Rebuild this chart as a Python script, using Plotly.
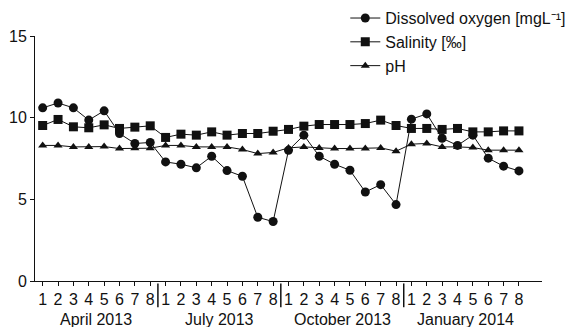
import plotly.graph_objects as go

months = ["April 2013", "July 2013", "October 2013", "January 2014"]
days = ["1", "2", "3", "4", "5", "6", "7", "8"]

dissolved_oxygen = [10.6, 10.9, 10.6, 9.85, 10.42, 9.03, 8.42, 8.48,
                    7.29, 7.15, 6.93, 7.64, 6.76, 6.41, 3.9, 3.64,
                    8.0, 8.93, 7.64, 7.15, 6.78, 5.45, 5.9, 4.68,
                    9.91, 10.23, 8.74, 8.3, 8.93, 7.52, 7.03, 6.74]
salinity = [9.52, 9.89, 9.44, 9.38, 9.56, 9.34, 9.42, 9.50,
            8.79, 8.99, 8.93, 9.13, 8.93, 9.03, 9.03, 9.17,
            9.28, 9.48, 9.58, 9.58, 9.58, 9.64, 9.85, 9.52,
            9.34, 9.34, 9.28, 9.34, 9.13, 9.13, 9.19, 9.19]
ph = [8.3, 8.3, 8.21, 8.2, 8.23, 8.11, 8.13, 8.13,
      8.3, 8.3, 8.21, 8.21, 8.21, 8.05, 7.8, 7.87,
      8.15, 8.21, 8.15, 8.11, 8.11, 8.11, 8.15, 7.95,
      8.38, 8.42, 8.21, 8.21, 8.17, 8.01, 8.01, 8.01]

n = len(months) * len(days)
xs = list(range(n))
tick_text = days * len(months)

FONT = "Liberation Sans, Arial, Helvetica, sans-serif"
INK = "#111111"

fig = go.Figure()
fig.add_trace(go.Scatter(x=xs, y=dissolved_oxygen, mode="lines+markers",
                         name="Dissolved oxygen [mgL⁻¹]",
                         line=dict(color=INK, width=1),
                         marker=dict(symbol="circle", size=9, color=INK)))
fig.add_trace(go.Scatter(x=xs, y=salinity, mode="lines+markers",
                         name="Salinity [‰]",
                         line=dict(color=INK, width=1),
                         marker=dict(symbol="square", size=9, color=INK)))
fig.add_trace(go.Scatter(x=xs, y=ph, mode="lines+markers",
                         name="pH",
                         line=dict(color=INK, width=1),
                         marker=dict(symbol="triangle-up", size=8, color=INK)))

# group separators and month labels
for g in range(1, len(months)):
    xpos = g * len(days) - 0.5
    fig.add_shape(type="line", xref="x", yref="paper", x0=xpos, x1=xpos,
                  y0=-0.01, y1=-0.107, line=dict(color=INK, width=1.5))
for g, m in enumerate(months):
    center = g * len(days) + (len(days) - 1) / 2
    fig.add_annotation(x=center, y=-0.156, xref="x", yref="paper", text=m,
                       showarrow=False, yanchor="middle",
                       font=dict(family=FONT, size=16, color=INK))

fig.update_xaxes(range=[-0.5, n + 0.5], tickmode="array", tickvals=xs,
                 ticktext=tick_text, ticks="outside", ticklen=4, tickwidth=1,
                 tickcolor=INK, showline=True, linecolor=INK, linewidth=1,
                 showgrid=False, zeroline=False,
                 tickfont=dict(family=FONT, size=16, color=INK))
fig.update_yaxes(range=[0, 15], tickvals=[0, 5, 10, 15], ticks="outside",
                 ticklen=4, tickwidth=1, tickcolor=INK, showline=True,
                 linecolor=INK, linewidth=1, showgrid=False, zeroline=False,
                 tickfont=dict(family=FONT, size=16, color=INK))

# the page body adds an 8px offset, so the figure is sized to fit after it
fig.update_layout(
    width=573, height=319,
    margin=dict(l=27, r=39, t=28, b=46, autoexpand=False),
    paper_bgcolor="white", plot_bgcolor="white",
    font=dict(family=FONT, size=16, color=INK),
    legend=dict(x=0.612, y=0.975, xanchor="left", yanchor="middle",
                bgcolor="rgba(0,0,0,0)", itemwidth=30,
                font=dict(family=FONT, size=16, color=INK),
                tracegroupgap=0),
)

fig.write_html("out.html")
